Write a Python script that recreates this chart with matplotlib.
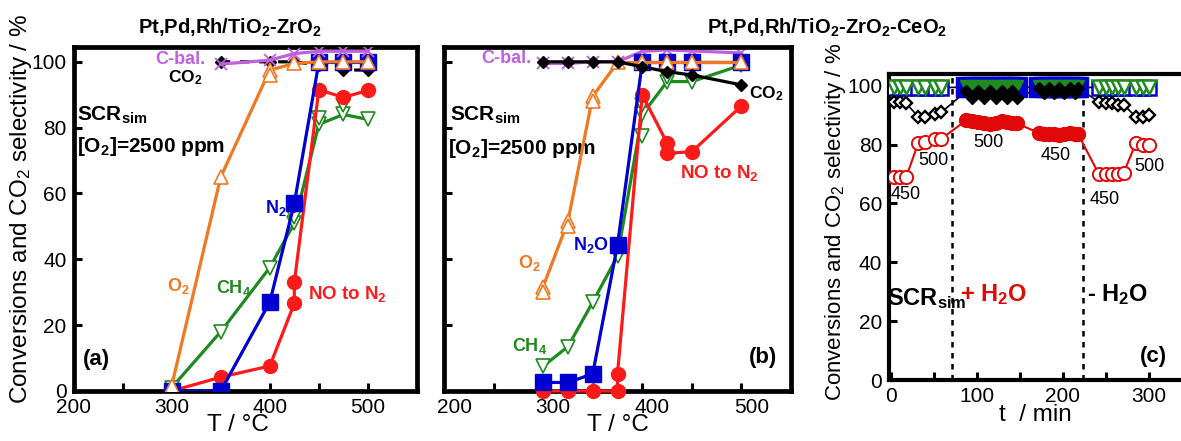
import matplotlib
matplotlib.use('Agg')
import matplotlib.pyplot as plt
import matplotlib.transforms as mtrans

plt.rcParams['font.family'] = ['Liberation Sans', 'DejaVu Sans']
plt.rcParams['mathtext.default'] = 'regular'

# ---------------- data: panel (a) Pt,Pd,Rh/TiO2-ZrO2 ----------------
T_a = [300, 350, 400, 425, 450, 475, 500]
o2_a = [1.5, 65, 97.5, 99.5, 100, 100, 100]
ch4_a = [1, 18, 37.5, 51, 81, 84, 82.5]
n2o_a = [0, 0, 27, 57, 99.8, 99.8, 99.8]
T_no_a = [300, 350, 400, 425, 425, 450, 475, 500]
no_a = [0, 4.2, 7.6, 26.6, 33, 91.5, 89.2, 91.3]
T_co2_a = [350, 400, 425, 450, 475, 500]
co2_a = [100, 100, 100, 99, 97.5, 97.5]
T_cb_a = [350, 400, 425, 450, 475, 500]
cbal_a = [99.3, 100.5, 102.5, 103.2, 103.2, 103.2]
# duplicate measurements (markers only)
T_o2_a_dup = [400]
o2_a_dup = [96]
T_ch4_a_dup = [425, 450, 475]
ch4_a_dup = [53, 83, 87]

# ---------------- data: panel (b) Pt,Pd,Rh/TiO2-ZrO2-CeO2 ----------------
T_b = [300, 325, 350, 375, 400, 425, 450, 500]
o2_b = [31.7, 51.5, 89.5, 99.8, 99.8, 99.8, 99.8, 99.8]
ch4_b = [7.5, 13.5, 27, 41, 84, 94, 94, 99]
n2o_b = [2.6, 2.6, 5.2, 44.4, 99.8, 99.8, 99.8, 99.8]
T_no_b = [300, 325, 350, 375, 375, 400, 425, 425, 450, 500]
no_b = [0, 0, 0, 0, 5.2, 90, 75.3, 72.2, 72.7, 86.6]
co2_b = [100, 100, 100, 100, 98.5, 97, 96, 93]
cbal_b = [99.5, 99.5, 100, 100, 103.2, 103.6, 103.3, 102.7]
T_o2_b_dup = [300, 325, 350]
o2_b_dup = [30.2, 50, 88]
T_ch4_b_dup = [375, 400, 400, 425]
ch4_b_dup = [44.5, 87, 77.5, 95.5]

# ---------------- data: panel (c) time on stream ----------------
t_dry1 = [4, 11, 18, 32, 40, 51, 59]
no_dry1 = [69, 69, 69, 80.5, 81, 82, 82]
co2_dry1 = [94.5, 94.5, 94, 89.5, 89.5, 90.5, 91]
n2o_dry1 = [99.4, 99.4, 99.4, 99.4, 99.4, 99.4, 99.4]
ch4_dry1 = [99.5, 99.5, 99.5, 99.5, 99.5, 99.5, 99.5]

t_wet2 = [88, 95, 102, 109, 116, 123, 129, 135, 141, 147]
no_wet2 = [88.3, 88, 87.7, 87.3, 87, 87.5, 88, 87.6, 87.5, 87.2]
co2_wet2 = [98.2, 95.8, 98.2, 95.8, 98.2, 95.8, 98.2, 95.8, 98.2, 95.8]
n2o_wet2 = [99.5, 99.5, 99.5, 99.5, 99.5, 99.5, 99.5, 99.5, 99.5, 99.5]
ch4_wet2 = [100, 100, 100, 100, 100, 100, 100, 100, 100, 100]

t_wet3 = [172, 178, 184, 190, 196, 202, 208, 214, 218]
no_wet3 = [84, 83.5, 83.5, 83.5, 83.2, 83.5, 84, 83.5, 83.5]
co2_wet3 = [99.3, 97.6, 99.3, 97.6, 99.3, 97.6, 99.3, 97.6, 99.3]
n2o_wet3 = [99.5, 99.5, 99.5, 99.5, 99.5, 99.5, 99.5, 99.5, 99.5]
ch4_wet3 = [100, 100, 100, 100, 100, 100, 100, 100, 100]

t_dry4 = [242, 250, 257, 264, 271, 285, 293, 300]
no_dry4 = [70, 70, 70, 70, 70.5, 80.5, 80, 80]
co2_dry4 = [94.5, 94, 94, 93.5, 93.5, 89.5, 89.5, 90]
n2o_dry4 = [99.4, 99.4, 99.4, 99.4, 99.4, 99.4, 99.4, 99.4]
ch4_dry4 = [99.5, 99.5, 99.5, 99.5, 99.5, 99.5, 99.5, 99.5]

t_switch = [71, 224]
temp_labels = ['450', '500', '500', '450', '450', '500']
temp_label_t = [17, 50, 114, 192, 249, 301]
temp_label_v = [63, 74.7, 80.8, 76.2, 61.4, 72.6]

# ---------------- style ----------------
C_O2 = '#f07820'
C_CH4 = '#1f8a1f'
C_N2O = '#0000d0'
C_NO = '#ff1a1a'
C_CO2 = 'black'
C_CB = '#c060e0'
C_NOc = '#e00808'

fig = plt.figure(figsize=(11.81, 4.41), dpi=100)
W, H = 1181.0, 441.0


def px_axes(l, r, t, b):
    return fig.add_axes([l / W, 1 - b / H, (r - l) / W, (b - t) / H])


ax_a = px_axes(73.5, 417, 47, 391)
ax_b = px_axes(444, 791, 47, 391)
ax_c = px_axes(889, 1191.7, 74, 380)


def style_axes(ax, spines_lw=3.4):
    for s in ax.spines.values():
        s.set_linewidth(spines_lw)
    ax.tick_params(direction='in', length=6, width=2.2, labelsize=15,
                   top=False, right=False, pad=5)


LW = 2.3

# ---------- panel (a) ----------
ax = ax_a
ax.plot(T_a, ch4_a, '-', color=C_CH4, lw=LW, marker='v', ms=10,
        mfc='white', mec=C_CH4, mew=1.2, zorder=3)
ax.plot(T_ch4_a_dup, ch4_a_dup, ls='none', marker='v', ms=10,
        mfc='white', mec=C_CH4, mew=1.2, zorder=3)
ax.plot(T_no_a, no_a, '-', color=C_NO, lw=LW, marker='o', ms=10,
        mfc=C_NO, mec=C_NO, zorder=4)
ax.plot(T_co2_a, co2_a, '--', color=C_CO2, lw=2.3, dashes=(3, 3),
        marker='D', ms=6.5, mfc=C_CO2, mec=C_CO2, zorder=5)
ax.plot(T_a, n2o_a, '-', color=C_N2O, lw=LW, marker='s', ms=11,
        mfc=C_N2O, mec=C_N2O, zorder=6)
ax.plot(T_a, o2_a, '-', color=C_O2, lw=LW, marker='^', ms=10,
        mfc='white', mec=C_O2, mew=1.2, zorder=7)
ax.plot(T_o2_a_dup, o2_a_dup, ls='none', marker='^', ms=10,
        mfc='white', mec=C_O2, mew=1.2, zorder=7)
ax.plot(T_cb_a, cbal_a, '-', color=C_CB, lw=LW, marker='x', ms=8,
        mec=C_CB, mew=1.3, zorder=8)

ax.set_xlim(200, 550)
ax.set_ylim(0, 104.5)
ax.set_xticks([200, 250, 300, 350, 400, 450, 500])
ax.set_xticklabels(['200', '', '300', '', '400', '', '500'])
ax.set_yticks([0, 20, 40, 60, 80, 100])
style_axes(ax)

ax.text(334, 100.8, 'C-bal.', color=C_CB, fontsize=13, fontweight='bold',
        ha='right', va='center')
ax.text(331, 95.3, 'CO$_2$', color='black', fontsize=12.5, fontweight='bold',
        ha='right', va='center')
ax.text(204, 82.2, 'SCR$_{sim}$', fontsize=15, fontweight='bold',
        ha='left', va='baseline')
ax.text(204, 72.7, '[O$_2$]=2500 ppm', fontsize=15, fontweight='bold',
        ha='left', va='baseline')
ax.text(295, 30.4, 'O$_2$', color=C_O2, fontsize=13, fontweight='bold',
        ha='left', va='baseline')
ax.text(345, 29.7, 'CH$_4$', color=C_CH4, fontsize=13, fontweight='bold',
        ha='left', va='baseline')
ax.text(395, 54, 'N$_2$O', color=C_N2O, fontsize=13, fontweight='bold',
        ha='left', va='baseline', zorder=5)
ax.text(438.6, 27.9, 'NO to N$_2$', color=C_NO, fontsize=13.5,
        fontweight='bold', ha='left', va='baseline')
ax.text(210, 7.9, '(a)', fontsize=16, fontweight='bold', ha='left',
        va='baseline')

# ---------- panel (b) ----------
ax = ax_b
ax.plot(T_b, cbal_b, '-', color=C_CB, lw=LW, marker='x', ms=8,
        mec=C_CB, mew=1.3, zorder=2)
ax.plot(T_b, ch4_b, '-', color=C_CH4, lw=LW, marker='v', ms=10,
        mfc='white', mec=C_CH4, mew=1.2, zorder=3)
ax.plot(T_ch4_b_dup, ch4_b_dup, ls='none', marker='v', ms=10,
        mfc='white', mec=C_CH4, mew=1.2, zorder=3)
ax.plot(T_no_b, no_b, '-', color=C_NO, lw=LW, marker='o', ms=10,
        mfc=C_NO, mec=C_NO, zorder=4, clip_on=False)
ax.plot(T_b, n2o_b, '-', color=C_N2O, lw=LW, marker='s', ms=11,
        mfc=C_N2O, mec=C_N2O, zorder=5)
ax.plot(T_b, o2_b, '-', color=C_O2, lw=LW, marker='^', ms=10,
        mfc='white', mec=C_O2, mew=1.2, zorder=6)
ax.plot(T_o2_b_dup, o2_b_dup, ls='none', marker='^', ms=10,
        mfc='white', mec=C_O2, mew=1.2, zorder=6)
ax.plot(T_b, co2_b, '-', color=C_CO2, lw=LW, marker='D', ms=6.5,
        mfc=C_CO2, mec=C_CO2, zorder=7)

ax.set_xlim(200, 550)
ax.set_ylim(0, 104.5)
ax.set_xticks([200, 250, 300, 350, 400, 450, 500])
ax.set_xticklabels(['200', '', '300', '', '400', '', '500'])
ax.set_yticks([0, 20, 40, 60, 80, 100])
ax.set_yticklabels([])
style_axes(ax)
shift = mtrans.ScaledTranslation(10 / 100.0, 0, fig.dpi_scale_trans)
for lab in ax.get_xticklabels():
    lab.set_transform(lab.get_transform() + shift)

ax.text(288.6, 101, 'C-bal.', color=C_CB, fontsize=13, fontweight='bold',
        ha='right', va='center')
ax.text(507.4, 89, 'CO$_2$', color='black', fontsize=12.5, fontweight='bold',
        ha='left', va='baseline')
ax.text(206, 82.2, 'SCR$_{sim}$', fontsize=15, fontweight='bold',
        ha='left', va='baseline')
ax.text(204.3, 72, '[O$_2$]=2500 ppm', fontsize=15, fontweight='bold',
        ha='left', va='baseline')
ax.text(275, 37.3, 'O$_2$', color=C_O2, fontsize=13, fontweight='bold',
        ha='left', va='baseline')
ax.text(268.4, 12, 'CH$_4$', color=C_CH4, fontsize=13, fontweight='bold',
        ha='left', va='baseline')
ax.text(330.6, 42.9, 'N$_2$O', color=C_N2O, fontsize=13, fontweight='bold',
        ha='left', va='baseline')
ax.text(438.4, 64.6, 'NO to N$_2$', color=C_NO, fontsize=13.5,
        fontweight='bold', ha='left', va='baseline')
ax.text(507.4, 8.4, '(b)', fontsize=16, fontweight='bold', ha='left',
        va='baseline')

# ---------- panel (c) ----------
ax = ax_c
t_all = t_dry1 + t_wet2 + t_wet3 + t_dry4
no_all = no_dry1 + no_wet2 + no_wet3 + no_dry4
co2_all = co2_dry1 + co2_wet2 + co2_wet3 + co2_dry4
n2o_all = n2o_dry1 + n2o_wet2 + n2o_wet3 + n2o_dry4

for ts in t_switch:
    ax.axvline(ts, color='black', lw=1.8, ls=(0, (2.2, 2.2)), zorder=1)

ax.plot(t_all, n2o_all, '-', color='black', lw=1.2, zorder=2)
ax.plot(t_all, co2_all, '-', color='black', lw=1.2, zorder=2)
ax.plot(t_all, no_all, '-', color=C_NOc, lw=1.5, zorder=2)

# dry phases: open markers
for tt, n2o, ch4 in ((t_dry1, n2o_dry1, ch4_dry1), (t_dry4, n2o_dry4, ch4_dry4)):
    ax.plot(tt, n2o, ls='none', marker='s', ms=10, mfc='white', mec=C_N2O,
            mew=1.8, zorder=3)
    ax.plot(tt, ch4, ls='none', marker='v', ms=9.5, mfc='white', mec=C_CH4,
            mew=1.8, zorder=4)
for tt, co2 in ((t_dry1, co2_dry1), (t_dry4, co2_dry4)):
    ax.plot(tt, co2, ls='none', marker='D', ms=6.2, mfc='white', mec='black',
            mew=1.7, zorder=5)
for tt, no in ((t_dry1, no_dry1), (t_dry4, no_dry4)):
    ax.plot(tt, no, ls='none', marker='o', ms=9.5, mfc='white', mec=C_NOc,
            mew=1.4, zorder=5)

# wet phases: filled markers
for tt, n2o, ch4, co2, no in ((t_wet2, n2o_wet2, ch4_wet2, co2_wet2, no_wet2),
                              (t_wet3, n2o_wet3, ch4_wet3, co2_wet3, no_wet3)):
    ax.plot(tt, n2o, ls='none', marker='s', ms=15, mfc=C_N2O, mec=C_N2O,
            zorder=3)
    ax.plot(tt, ch4, ls='none', marker='v', ms=9, mfc=C_CH4, mec=C_CH4,
            zorder=4)
    ax.plot(tt, co2, ls='none', marker='D', ms=5.8, mfc='black', mec='black',
            zorder=5)
    ax.plot(tt, no, ls='none', marker='o', ms=10, mfc=C_NOc, mec=C_NOc,
            zorder=5)

for lab, tx, vy in zip(temp_labels, temp_label_t, temp_label_v):
    ax.text(tx, vy, lab, fontsize=13, ha='center', va='center', zorder=6)

ax.set_xlim(-2, 350)
ax.set_ylim(0, 104)
ax.set_xticks([0, 50, 100, 150, 200, 250, 300])
ax.set_xticklabels(['0', '', '100', '', '200', '', '300'])
ax.set_yticks([0, 20, 40, 60, 80, 100])
style_axes(ax, 3.0)
ax.spines['right'].set_visible(False)

ax.text(-4.5, 25.6, 'SCR$_{sim}$', fontsize=17, fontweight='bold',
        ha='left', va='baseline', zorder=6)
ax.text(80.6, 26.7, '+ H$_2$O', color=C_NOc, fontsize=17, fontweight='bold',
        ha='left', va='baseline', zorder=6)
ax.text(228, 26.7, '- H$_2$O', color='black', fontsize=17, fontweight='bold',
        ha='left', va='baseline', zorder=6)
ax.text(290, 6.2, '(c)', fontsize=16, fontweight='bold', ha='left',
        va='baseline', zorder=6)

# ---------- figure-level texts ----------
fig.text(230 / W, 1 - 28 / H, 'Pt,Pd,Rh/TiO$_2$-ZrO$_2$', fontsize=14.5,
         fontweight='bold', ha='center', va='center')
fig.text(827 / W, 1 - 28 / H, 'Pt,Pd,Rh/TiO$_2$-ZrO$_2$-CeO$_2$',
         fontsize=14.5, fontweight='bold', ha='center', va='center')
ylab = 'Conversions and CO$_2$ selectivity / %'
fig.text(21 / W, 1 - 209 / H, ylab, fontsize=17.5, rotation=90,
         ha='center', va='center')
fig.text(836 / W, 1 - 222 / H, ylab, fontsize=16, rotation=90,
         ha='center', va='center')
fig.text(238 / W, 1 - 425 / H, 'T / °C', fontsize=17.5, ha='center',
         va='center')
fig.text(618 / W, 1 - 425 / H, 'T / °C', fontsize=17.5, ha='center',
         va='center')
fig.text(1035 / W, 1 - 415 / H, 't  / min', fontsize=17.5, ha='center',
         va='center')

fig.savefig('out.png', dpi=100)
